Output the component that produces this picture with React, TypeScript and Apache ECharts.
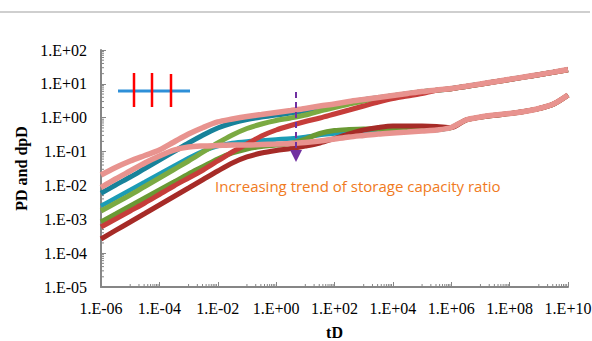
import React, { useEffect, useRef } from "react";
import * as echarts from "echarts";

// tD grid (half-decade steps)
const tD = [
  1e-6, 3.16e-6, 1e-5, 3.16e-5, 1e-4, 3.16e-4, 1e-3, 3.16e-3, 1e-2, 3.16e-2,
  0.1, 0.316, 1, 3.16, 10, 31.6, 100, 316, 1e3, 3.16e3, 1e4, 3.16e4, 1e5,
  3.16e5, 1e6, 3.16e6, 1e7, 3.16e7, 1e8, 3.16e8, 1e9, 3.16e9, 1e10,
];

const pinkPD = [
  2.03e-2, 3.39e-2, 5.27e-2, 7.66e-2, 0.111, 0.192, 0.33, 0.514, 0.748, 0.916,
  1.09, 1.24, 1.43, 1.63, 1.87, 2.22, 2.54, 3.01, 3.45, 3.95, 4.53, 5.19, 5.94,
  6.59, 7.29, 8.47, 9.91, 11.6, 13.6, 16.0, 18.7, 22.2, 26.5,
];
const pinkDPD = [
  8.69e-3, 1.55e-2, 2.67e-2, 4.6e-2, 7.4e-2, 0.111, 0.136, 0.146, 0.151, 0.156,
  0.156, 0.162, 0.167, 0.173, 0.185, 0.205, 0.235, 0.27, 0.299, 0.33, 0.354,
  0.378, 0.406, 0.434, 0.514, 0.857, 1.05, 1.2, 1.33, 1.53, 1.87, 2.54, 4.69,
];
const tealPD = [
  5.86e-3, 1.03e-2, 1.77e-2, 3.16e-2, 5.64e-2, 0.1, 0.179, 0.309, 0.497, 0.698,
  0.885, 1.05, 1.2, 1.38, 1.63, 2.0, 2.38, 2.82, 3.4, 3.9, 4.47, 5.12, 5.87,
  6.52, 7.21, 8.38, 9.8, 11.5, 13.5, 15.8, 18.5, 22.0, 26.2,
];
const tealDPD = [
  2.47e-3, 4.26e-3, 7.33e-3, 1.26e-2, 2.18e-2, 3.75e-2, 6.46e-2, 0.104, 0.146,
  0.179, 0.199, 0.212, 0.228, 0.243, 0.27, 0.309, 0.342, 0.378, 0.392, 0.392,
  0.392, 0.406, 0.42, 0.434, 0.51, 0.85, 1.04, 1.19, 1.32, 1.52, 1.85, 2.52,
  4.65,
];
const greenPD = [
  1.76e-3, 3.03e-3, 5.22e-3, 9.31e-3, 1.66e-2, 2.96e-2, 5.27e-2, 9.73e-2, 0.179,
  0.309, 0.481, 0.653, 0.828, 0.982, 1.2, 1.58, 2.0, 2.54, 3.12, 3.7, 4.45,
  5.1, 5.85, 6.5, 7.2, 8.36, 9.78, 11.5, 13.4, 15.8, 18.5, 21.9, 26.2,
];
const greenDPD = [
  8.32e-4, 1.43e-3, 2.47e-3, 4.26e-3, 7.33e-3, 1.26e-2, 2.18e-2, 3.62e-2,
  6.04e-2, 9.08e-2, 0.119, 0.141, 0.156, 0.173, 0.235, 0.342, 0.42, 0.449,
  0.465, 0.465, 0.465, 0.465, 0.465, 0.465, 0.51, 0.85, 1.04, 1.19, 1.32, 1.52,
  1.85, 2.52, 4.65,
];
const redPD = [
  5.93e-4, 1.02e-3, 1.76e-3, 3.03e-3, 5.4e-3, 9.62e-3, 1.66e-2, 2.86e-2,
  5.27e-2, 9.73e-2, 0.167, 0.288, 0.434, 0.589, 0.773, 0.982, 1.29, 1.69, 2.22,
  2.91, 3.7, 4.38, 5.19, 6.5, 7.2, 8.36, 9.78, 11.5, 13.4, 15.8, 18.5, 21.9,
  26.2,
];
const darkRedDPD = [
  2.62e-4, 4.68e-4, 8.32e-4, 1.48e-3, 2.64e-3, 4.71e-3, 8.4e-3, 1.5e-2, 2.67e-2,
  4.6e-2, 6.92e-2, 9.08e-2, 0.108, 0.123, 0.146, 0.179, 0.243, 0.33, 0.434,
  0.514, 0.569, 0.569, 0.569, 0.551, 0.51, 0.85, 1.04, 1.19, 1.32, 1.52, 1.85,
  2.52, 4.65,
];

const seriesDefs = [
  { name: "teal dpD", values: tealDPD, color: "#1C9CB6", width: 4.5 },
  { name: "teal PD", values: tealPD, color: "#17829A", width: 5 },
  { name: "green dpD", values: greenDPD, color: "#6A9A34", width: 5 },
  { name: "green PD", values: greenPD, color: "#7BAA42", width: 5 },
  { name: "red PD", values: redPD, color: "#C63D3A", width: 5 },
  { name: "dark red dpD", values: darkRedDPD, color: "#A62B27", width: 5 },
  { name: "pink dpD", values: pinkDPD, color: "#E8938F", width: 5.5 },
  { name: "pink PD", values: pinkPD, color: "#E8938F", width: 5.5 },
];

const fmt = (v: number) => {
  const r = Math.round(v);
  const s = r < 0 ? "-" : "+";
  return "1.E" + s + String(Math.abs(r)).padStart(2, "0");
};

export default function App() {
  const ref = useRef<HTMLDivElement>(null);
  useEffect(() => {
    if (!ref.current) return;
    const chart = echarts.init(ref.current, undefined, { renderer: "svg" });
    const xMin = -6, xMax = 10, yMin = -5, yMax = 2;

    // minor tick positions (axis decoration)
    const tickData: number[][] = [];
    for (let e = xMin; e < xMax; e += 2) {
      for (let k = 1; k <= 9; k++) tickData.push([e + 1 + Math.log10(k), yMin, 0]);
    }
    for (let e = yMin; e < yMax; e++) {
      for (let k = 2; k <= 9; k++) tickData.push([xMin, e + Math.log10(k), 1]);
    }

    const lineSeries = seriesDefs.map((d) => ({
      name: d.name,
      type: "line",
      data: tD.map((t, i) => [Math.log10(t), Math.log10(d.values[i])]),
      showSymbol: false,
      smooth: 0.3,
      lineStyle: { width: d.width, color: d.color },
      itemStyle: { color: d.color },
      emphasis: { disabled: true },
      z: 3,
    }));

    const nameStyle = {
      fontFamily: "Liberation Serif",
      fontWeight: "bold",
      fontSize: 16,
      color: "#000",
    };

    const option: any = {
      animation: false,
      backgroundColor: "#ffffff",
      grid: {
        left: 101,
        right: 24,
        top: 50,
        bottom: 54,
        containLabel: false,
        outerBoundsMode: "none",
      },
      xAxis: {
        type: "value",
        min: xMin,
        max: xMax,
        interval: 2,
        name: "tD",
        nameLocation: "middle",
        nameGap: 37,
        nameTextStyle: nameStyle,
        axisLine: { onZero: false, lineStyle: { color: "#868686", width: 2 } },
        axisTick: { inside: true, length: 5, lineStyle: { color: "#868686", width: 1 } },
        axisLabel: {
          formatter: fmt,
          fontFamily: "Liberation Serif",
          fontSize: 16,
          color: "#000",
          margin: 13,
          showMinLabel: true,
          showMaxLabel: true,
        },
        splitLine: { show: false },
      },
      yAxis: {
        type: "value",
        min: yMin,
        max: yMax,
        interval: 1,
        name: "PD and dpD",
        nameLocation: "middle",
        nameGap: 70,
        nameTextStyle: nameStyle,
        axisLine: { show: true, onZero: false, lineStyle: { color: "#868686", width: 2 } },
        axisTick: { show: true, inside: true, length: 5, lineStyle: { color: "#868686", width: 1 } },
        axisLabel: {
          formatter: fmt,
          fontFamily: "Liberation Serif",
          fontSize: 16,
          color: "#000",
          margin: 14,
        },
        splitLine: { show: false },
      },
      series: [
        {
          type: "custom",
          silent: true,
          clip: false,
          data: tickData,
          z: 2,
          renderItem: (params: any, api: any) => {
            const p = api.coord([api.value(0), api.value(1)]);
            const horiz = api.value(2) === 1;
            const len = 3;
            return {
              type: "line",
              shape: horiz
                ? { x1: p[0], y1: p[1], x2: p[0] + len, y2: p[1] }
                : { x1: p[0], y1: p[1], x2: p[0], y2: p[1] - len },
              style: { stroke: "#868686", lineWidth: 1 },
            };
          },
        },
        ...lineSeries,
      ],
      graphic: [
        { type: "line", z: 100, shape: { x1: 0, y1: 12, x2: 590, y2: 12 }, style: { stroke: "#BFBFBF", lineWidth: 1.5 } },
        { type: "line", z: 100, shape: { x1: 118, y1: 91, x2: 190, y2: 91 }, style: { stroke: "#2E8FD8", lineWidth: 3 } },
        { type: "line", z: 101, shape: { x1: 134, y1: 73, x2: 134, y2: 107 }, style: { stroke: "#FF0000", lineWidth: 2.5 } },
        { type: "line", z: 101, shape: { x1: 152, y1: 73, x2: 152, y2: 107 }, style: { stroke: "#FF0000", lineWidth: 2.5 } },
        { type: "line", z: 101, shape: { x1: 171, y1: 74, x2: 171, y2: 107 }, style: { stroke: "#FF0000", lineWidth: 2.5 } },
        { type: "line", z: 100, shape: { x1: 296, y1: 92, x2: 296, y2: 151 }, style: { stroke: "#7030A0", lineWidth: 2, lineDash: [6, 4] } },
        { type: "polygon", z: 100, shape: { points: [[290, 150], [302, 150], [296, 162]] }, style: { fill: "#7030A0" } },
        {
          type: "text",
          z: 100,
          x: 215,
          y: 186,
          style: {
            text: "Increasing trend of storage capacity ratio",
            fill: "#F07A22",
            fontSize: 15,
            fontFamily: "Open Sans",
            verticalAlign: "middle",
          },
        },
      ],
    };
    chart.setOption(option);
    return () => chart.dispose();
  }, []);
  return (
    <div
      ref={ref}
      style={{ position: "absolute", left: 0, top: 0, width: 592, height: 341, background: "#fff" }}
    />
  );
}
